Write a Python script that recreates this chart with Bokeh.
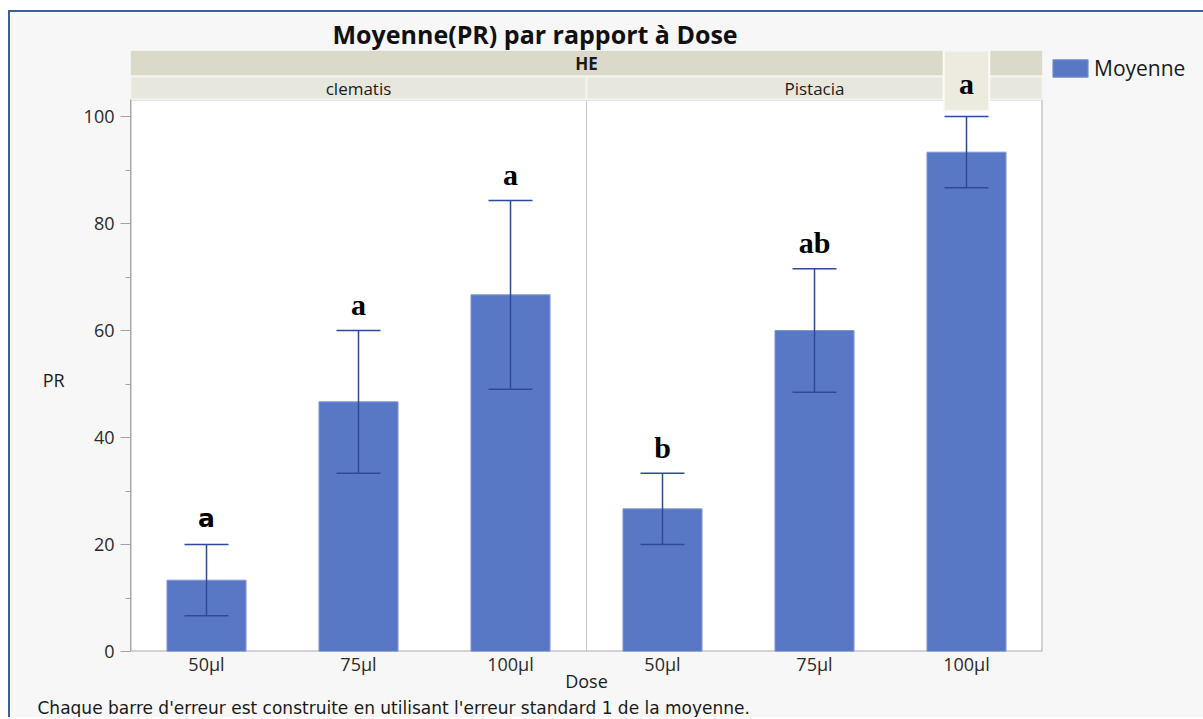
from bokeh.plotting import figure
from bokeh.models import (ColumnDataSource, Range1d, FixedTicker, Whisker, TeeHead,
                          Legend, LegendItem, Title)
from bokeh.embed import file_html
from bokeh.resources import INLINE
from bokeh.core.properties import value

# ---- data ----
groups = ["clematis", "Pistacia"]
doses = ["50µl", "75µl", "100µl"]
means = [13.33, 46.67, 66.67, 26.67, 60.0, 93.33]
ses = [6.67, 13.33, 17.64, 6.67, 11.55, 6.67]
letters = ["a", "a", "a", "b", "ab", "a"]
y_ticks = [0, 20, 40, 60, 80, 100]
y_minor = [10, 30, 50, 70, 90]

nd = len(doses)
n = len(groups) * nd
xs = [i + 0.5 for i in range(n)]
dose_labels = [doses[i % nd] for i in range(n)]
upper = [m + s for m, s in zip(means, ses)]
lower = [m - s for m, s in zip(means, ses)]

# ---- geometry ----
FRAME_W, FRAME_H = 912, 601
PX = 5.35                      # pixels per unit
y_end = FRAME_H / PX
area_top = y_end - 49 / PX     # white plot area top
sub_top = y_end - 26 / PX
he_bot = y_end - 25 / PX

BAR = "#5878c5"
ERR = "#2e4a96"
FONT = "Open Sans"
TXT = "#1a1a1a"

p = figure(frame_width=FRAME_W, frame_height=FRAME_H,
           x_range=Range1d(0, n), y_range=Range1d(0, y_end),
           output_backend="svg", toolbar_location=None,
           min_border_left=120, min_border_right=150, min_border_top=38, min_border_bottom=30,
           background_fill_color="#f7f7f7", border_fill_color="#f7f7f7",
           outline_line_color=None)
p.margin = (10, 0, 0, 8)
p.styles = {"border-top": "2px solid #3a5f99", "border-left": "2px solid #3a5f99"}
p.xgrid.visible = False
p.ygrid.visible = False

p.title.text = "Moyenne(PR) par rapport à Dose"
p.title.align = "left"
p.title.offset = 202
p.title.standoff = 0
p.title.text_font = FONT
p.title.text_font_style = "bold"
p.title.text_font_size = "25px"
p.title.text_color = "#111111"

# white plot area with grey border
p.quad(left=0, right=n, bottom=0, top=area_top, fill_color="white",
       line_color="#a8a8a8", line_width=2)
# panel dividers
for g in range(1, len(groups)):
    p.segment(x0=g * nd, x1=g * nd, y0=0, y1=area_top, line_color="#c8c8c8", line_width=1)

# header strips
p.quad(left=0, right=n, bottom=he_bot, top=y_end, fill_color="#dbd9ca", line_color=None)
p.quad(left=[g * nd for g in range(len(groups))], right=[g * nd + nd for g in range(len(groups))],
       bottom=area_top, top=sub_top, fill_color="#e8e7de", line_color="#f4f4ef", line_width=2)
p.text(x=n / 2, y=(he_bot + y_end) / 2, text=["HE"], text_align="center",
       text_baseline="middle", text_font=value(FONT), text_font_style="bold",
       text_font_size="17px", text_color=TXT)
p.text(x=[g * nd + nd / 2 for g in range(len(groups))], y=(area_top + sub_top) / 2, text=groups,
       text_align="center", text_baseline="middle", text_font=value(FONT),
       text_font_size="17px", text_color=TXT)

src = ColumnDataSource(dict(x=xs, mean=means, upper=upper, lower=lower, letter=letters))
bars = p.vbar(x="x", top="mean", width=0.52, source=src, fill_color=BAR,
              line_color="#7f96d3", line_width=1)

wh = Whisker(source=src, base="x", upper="upper", lower="lower", line_color=ERR, line_width=1.5,
             upper_head=TeeHead(size=44, line_color=ERR, line_width=1.5),
             lower_head=TeeHead(size=44, line_color=ERR, line_width=1.5), level="annotation")
p.add_layout(wh)

# significance letters
first = ColumnDataSource(dict(x=xs[:1], y=upper[:1], t=letters[:1]))
mid = ColumnDataSource(dict(x=xs[1:-1], y=upper[1:-1], t=letters[1:-1]))
last = ColumnDataSource(dict(x=xs[-1:], y=upper[-1:], t=letters[-1:]))
p.text(x="x", y="y", text="t", source=first, y_offset=-26, text_align="center",
       text_baseline="middle", text_font=value("DejaVu Sans"), text_font_style="bold",
       text_font_size="25px", text_color="black")
p.text(x="x", y="y", text="t", source=mid, y_offset=-26, text_align="center",
       text_baseline="middle", text_font=value("Liberation Serif"), text_font_style="bold",
       text_font_size="30px", text_color="black")
p.quad(left=xs[-1] - 0.15, right=xs[-1] + 0.15, bottom=upper[-1] + 1.0, top=y_end,
       fill_color="#edebe0", line_color="#fbfbf8", line_width=2)
p.text(x="x", y="y", text="t", source=last, y_offset=-33, text_align="center",
       text_baseline="middle", text_font=value("Liberation Serif"), text_font_style="bold",
       text_font_size="30px", text_color="black")

# axes
yax = p.yaxis[0]
yax.ticker = FixedTicker(ticks=y_ticks, minor_ticks=y_minor)
yax.bounds = (0, area_top)
yax.axis_line_color = "#a8a8a8"
yax.major_tick_line_color = "#a0a0a0"
yax.minor_tick_line_color = "#a0a0a0"
yax.major_tick_out = 10
yax.major_tick_in = 0
yax.minor_tick_out = 5
yax.minor_tick_in = 0
yax.major_label_text_font = FONT
yax.major_label_text_font_size = "18px"
yax.major_label_text_color = "#2a2a2a"
yax.major_label_standoff = 6
yax.axis_label = "\n\nPR"
yax.axis_label_text_font = FONT
yax.axis_label_text_font_size = "18px"
yax.axis_label_text_font_style = "normal"
yax.axis_label_text_color = TXT
yax.axis_label_standoff = 16
if "axis_label_orientation" in yax.properties():
    yax.axis_label_orientation = "horizontal"

xax = p.xaxis[0]
xax.ticker = FixedTicker(ticks=xs)
xax.major_label_overrides = {x: lab for x, lab in zip(xs, dose_labels)}
xax.axis_line_color = None
xax.major_tick_line_color = None
xax.minor_tick_line_color = None
xax.major_tick_out = 0
xax.minor_tick_out = 0
xax.major_label_standoff = 0
xax.major_label_text_font = FONT
xax.major_label_text_font_size = "18px"
xax.major_label_text_color = "#2a2a2a"
xax.axis_label = "Dose"
xax.axis_label_standoff = -10
xax.axis_label_text_font = FONT
xax.axis_label_text_font_size = "18px"
xax.axis_label_text_font_style = "normal"
xax.axis_label_text_color = TXT

note = Title(text="Chaque barre d'erreur est construite en utilisant l'erreur standard 1 de la moyenne.",
             align="left", offset=-93, standoff=0, text_font="DejaVu Sans", text_font_size="17px",
             text_font_style="normal", text_color=TXT)
p.add_layout(note, "below")

legend = Legend(items=[LegendItem(label="Moyenne", renderers=[bars])], location=(6, 569),
                margin=0, padding=0, border_line_color=None, background_fill_alpha=0,
                glyph_width=44, glyph_height=22, label_text_font=FONT,
                label_text_font_size="21px", label_text_color=TXT, label_standoff=2)
p.add_layout(legend, "right")

open("out.html", "w").write(file_html(p, INLINE))
